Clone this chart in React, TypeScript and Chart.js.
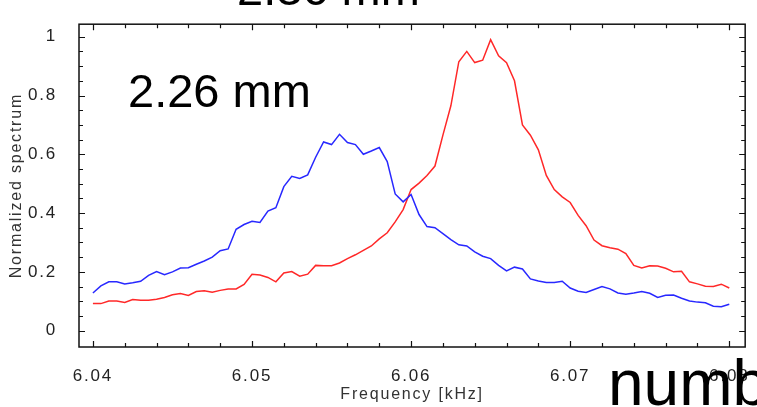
import React, { useEffect, useRef } from "react";
import { Chart, registerables } from "chart.js";

Chart.register(...registerables);

// Frequency grid (kHz), sampled every 0.0005 kHz from 6.04 to 6.08
const freqKHz: number[] = Array.from({ length: 81 }, (_, i) => +(6.04 + i * 0.0005).toFixed(4));

// Blue trace (normalized spectrum)
const blueSpectrum: number[] = [
  0.128, 0.152, 0.166, 0.166, 0.159, 0.163, 0.168, 0.188, 0.201, 0.190,
  0.200, 0.213, 0.214, 0.226, 0.237, 0.250, 0.272, 0.278, 0.345, 0.361,
  0.372, 0.368, 0.407, 0.418, 0.490, 0.525, 0.518, 0.530, 0.590, 0.642,
  0.633, 0.668, 0.640, 0.633, 0.600, 0.611, 0.623, 0.575, 0.465, 0.438,
  0.463, 0.395, 0.354, 0.350, 0.330, 0.310, 0.292, 0.288, 0.268, 0.253,
  0.245, 0.222, 0.203, 0.216, 0.210, 0.176, 0.169, 0.164, 0.164, 0.168,
  0.145, 0.134, 0.130, 0.140, 0.150, 0.142, 0.128, 0.124, 0.128, 0.133,
  0.127, 0.113, 0.120, 0.121, 0.110, 0.101, 0.097, 0.095, 0.083, 0.081,
  0.090,
];

// Red trace (normalized spectrum)
const redSpectrum: number[] = [
  0.092, 0.092, 0.101, 0.101, 0.096, 0.106, 0.103, 0.103, 0.107, 0.113,
  0.122, 0.126, 0.120, 0.133, 0.136, 0.131, 0.137, 0.142, 0.142, 0.157,
  0.192, 0.189, 0.181, 0.166, 0.196, 0.201, 0.185, 0.192, 0.222, 0.221,
  0.221, 0.230, 0.245, 0.258, 0.273, 0.288, 0.312, 0.333, 0.370, 0.412,
  0.480, 0.502, 0.528, 0.560, 0.665, 0.765, 0.915, 0.950, 0.912, 0.920,
  0.990, 0.935, 0.912, 0.850, 0.700, 0.665, 0.615, 0.528, 0.480, 0.455,
  0.436, 0.392, 0.357, 0.308, 0.289, 0.282, 0.277, 0.262, 0.222, 0.213,
  0.221, 0.220, 0.212, 0.200, 0.202, 0.166, 0.159, 0.151, 0.150, 0.158,
  0.145,
];

const xTickValues: number[] = [6.04, 6.05, 6.06, 6.07, 6.08];
const yTickValues: number[] = [0, 0.2, 0.4, 0.6, 0.8, 1];

const X_MIN = 6.039125;
const X_MAX = 6.081;
const Y_MIN = -0.0557;
const Y_MAX = 1.0426;

const FONT = "'Liberation Sans', Arial, Helvetica, sans-serif";

const frameTicksPlugin = {
  id: "frameTicks",
  beforeDraw(chart: any) {
    chart.ctx.letterSpacing = "1.8px";
  },
  afterDatasetsDraw(chart: any) {
    const { ctx, chartArea: a, scales } = chart;
    const xs = scales.x;
    const ys = scales.y;
    ctx.save();
    ctx.letterSpacing = "0px";
    ctx.strokeStyle = "#111";
    ctx.lineWidth = 1.5;
    ctx.strokeRect(a.left, a.top, a.right - a.left, a.bottom - a.top);
    ctx.lineWidth = 1.2;
    ctx.beginPath();
    for (let i = 0; i <= 20; i++) {
      const v = 6.04 + i * 0.002;
      const px = Math.round(xs.getPixelForValue(v)) + 0.5;
      const len = i % 5 === 0 ? 6 : 4;
      ctx.moveTo(px, a.bottom);
      ctx.lineTo(px, a.bottom - len);
      ctx.moveTo(px, a.top);
      ctx.lineTo(px, a.top + len);
    }
    for (let i = 0; i <= 20; i++) {
      const v = i * 0.05;
      const py = Math.round(ys.getPixelForValue(v)) + 0.5;
      const len = i % 4 === 0 ? 6 : 4;
      ctx.moveTo(a.left, py);
      ctx.lineTo(a.left + len, py);
      ctx.moveTo(a.right, py);
      ctx.lineTo(a.right - len, py);
    }
    ctx.stroke();
    ctx.restore();
  },
};

export default function App() {
  const canvasRef = useRef<HTMLCanvasElement | null>(null);

  useEffect(() => {
    const canvas = canvasRef.current;
    if (!canvas) return;
    const chart = new Chart(canvas, {
      type: "line",
      data: {
        datasets: [
          {
            label: "blue",
            data: freqKHz.map((f, i) => ({ x: f, y: blueSpectrum[i] })),
            borderColor: "rgb(40,40,255)",
            borderWidth: 1.5,
            pointRadius: 0,
            tension: 0,
            fill: false,
          },
          {
            label: "red",
            data: freqKHz.map((f, i) => ({ x: f, y: redSpectrum[i] })),
            borderColor: "rgb(255,40,40)",
            borderWidth: 1.5,
            pointRadius: 0,
            tension: 0,
            fill: false,
          },
        ],
      },
      options: {
        responsive: false,
        animation: false,
        devicePixelRatio: 1,
        layout: { padding: { left: 0, top: 12, right: 8, bottom: 0 } },
        plugins: {
          legend: { display: false },
          tooltip: { enabled: false },
        },
        scales: {
          x: {
            type: "linear",
            min: X_MIN,
            max: X_MAX,
            grid: { display: false },
            border: { display: false },
            afterBuildTicks: (scale: any) => {
              scale.ticks = xTickValues.map((v) => ({ value: v }));
            },
            afterFit: (scale: any) => {
              scale.height = 60;
            },
            ticks: {
              padding: 11,
              maxRotation: 0,
              autoSkip: false,
              color: "#222",
              font: { family: FONT, size: 17 },
              callback: (v: any) => Number(v).toFixed(2),
            },
            title: {
              display: true,
              text: "Frequency [kHz]",
              color: "#333",
              font: { family: FONT, size: 16 },
              padding: { top: 0, bottom: 3 },
            },
          },
          y: {
            type: "linear",
            min: Y_MIN,
            max: Y_MAX,
            grid: { display: false },
            border: { display: false },
            afterBuildTicks: (scale: any) => {
              scale.ticks = yTickValues.map((v) => ({ value: v }));
            },
            afterFit: (scale: any) => {
              scale.width = 79;
            },
            ticks: {
              padding: 14,
              autoSkip: false,
              color: "#222",
              font: { family: FONT, size: 17 },
              callback: (v: any) => String(+Number(v).toFixed(1)),
            },
            title: {
              display: true,
              text: "Normalized spectrum",
              color: "#333",
              font: { family: FONT, size: 16 },
              padding: { top: 7, bottom: 0 },
            },
          },
        },
      },
      plugins: [frameTicksPlugin],
    });
    return () => chart.destroy();
  }, []);

  const big: React.CSSProperties = {
    position: "absolute",
    fontFamily: FONT,
    lineHeight: 1,
    color: "#000",
    whiteSpace: "nowrap",
    margin: 0,
  };

  return (
    <div
      style={{
        position: "absolute",
        left: 0,
        top: 0,
        width: 757,
        height: 407,
        overflow: "hidden",
        background: "#fff",
      }}
    >
      <canvas ref={canvasRef} width={757} height={407} style={{ display: "block" }} />
      <div style={{ ...big, left: 237, top: -35, fontSize: 47 }}>2.36 mm</div>
      <div style={{ ...big, left: 128, top: 67, fontSize: 47 }}>2.26 mm</div>
      <div style={{ ...big, left: 608, top: 351, fontSize: 64 }}>number</div>
    </div>
  );
}
